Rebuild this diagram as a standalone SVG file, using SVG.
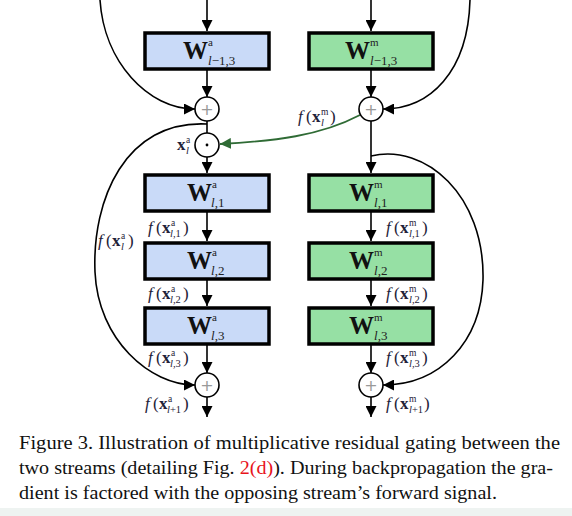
<svg xmlns="http://www.w3.org/2000/svg" width="572" height="516" viewBox="0 0 572 516">
<style>
.box{stroke:#000;stroke-width:3.5}
.ba{fill:#c9daf8}
.bm{fill:#96e0a4}
.c{fill:none;stroke:#000;stroke-width:1.6}
.g{fill:none;stroke:#2f6b35;stroke-width:1.8}
.circ{fill:#fff;stroke:#000;stroke-width:1.6}
.W{font-family:"Liberation Serif",serif;font-size:25px;font-weight:bold;fill:#111}
.s{font-family:"Liberation Serif",serif;font-size:13px;fill:#222}
.p{font-family:"Liberation Serif",serif;font-size:11px;fill:#222}
.lab{font-family:"Liberation Serif",serif;font-size:17px;fill:#1f2238}
.ls{font-family:"Liberation Serif",serif;font-size:10.5px;fill:#1f2238}
.lp{font-family:"Liberation Serif",serif;font-size:9.5px;fill:#1f2238}
.it{font-style:italic}
.x{font-weight:bold}
.cap{font-family:"Liberation Serif",serif;font-size:18px;fill:#111}
.op{font-family:"DejaVu Sans",sans-serif;font-size:16px;fill:#999;text-anchor:middle}
</style>
<defs>
<marker id="ah" markerUnits="userSpaceOnUse" markerWidth="11" markerHeight="11" refX="11" refY="5.5" orient="auto"><path d="M0,0 L11,5.5 L0,11 z" fill="#000"/></marker>
<marker id="ahg" markerUnits="userSpaceOnUse" markerWidth="11" markerHeight="11" refX="11" refY="5.5" orient="auto"><path d="M0,0 L11,5.5 L0,11 z" fill="#2f6b35"/></marker>
</defs>
<rect width="572" height="516" fill="#fff"/>
<rect x="0" y="508" width="572" height="8" fill="#eef3f1"/>

<g id="connectors">
<path class="c" d="M207,0 V31" marker-end="url(#ah)"/>
<path class="c" d="M207,70 V97" marker-end="url(#ah)"/>
<path class="c" d="M371,0 V31" marker-end="url(#ah)"/>
<path class="c" d="M371,70 V97" marker-end="url(#ah)"/>
<path class="c" d="M100,0 C104,62 148,109 195,109" marker-end="url(#ah)"/>
<path class="c" d="M470,0 C468,72 430,109 383,109" marker-end="url(#ah)"/>
<path class="c" d="M207,121 V133"/>
<path class="c" d="M207,157 V173" marker-end="url(#ah)"/>
<path class="c" d="M371,121 V173" marker-end="url(#ah)"/>
<path class="g" d="M360,115 C320,136 275,141 220,144" marker-end="url(#ahg)"/>
<path class="c" d="M207,212 V241" marker-end="url(#ah)"/>
<path class="c" d="M207,280 V306" marker-end="url(#ah)"/>
<path class="c" d="M207,345 V373" marker-end="url(#ah)"/>
<path class="c" d="M207,397 V417" marker-end="url(#ah)"/>
<path class="c" d="M371,212 V241" marker-end="url(#ah)"/>
<path class="c" d="M371,280 V306" marker-end="url(#ah)"/>
<path class="c" d="M371,345 V373" marker-end="url(#ah)"/>
<path class="c" d="M371,397 V417" marker-end="url(#ah)"/>
<path class="c" d="M207,124 C125,120 92,200 95,272 C98,340 150,385 195,385" marker-end="url(#ah)"/>
<path class="c" d="M371,156 C425,143 485,195 483,280 C481,342 440,385 383,385" marker-end="url(#ah)"/>
</g>

<g id="Wa0"><rect class="box ba" x="145" y="33" width="124" height="36"/>
<text class="W" x="183" y="59">W</text><text class="p" x="208" y="46">a</text><text class="s" x="208" y="65"><tspan class="it">l</tspan>−1,3</text></g>
<g id="Wm0"><rect class="box bm" x="309" y="33" width="124" height="36"/>
<text class="W" x="345" y="59">W</text><text class="p" x="370" y="46">m</text><text class="s" x="370" y="65"><tspan class="it">l</tspan>−1,3</text></g>

<g id="Wa1"><rect class="box ba" x="145" y="175" width="124" height="36"/>
<text class="W" x="187" y="201">W</text><text class="p" x="212" y="188">a</text><text class="s" x="211" y="207"><tspan class="it">l</tspan>,1</text></g>
<g id="Wa2"><rect class="box ba" x="145" y="243" width="124" height="36"/>
<text class="W" x="187" y="269">W</text><text class="p" x="212" y="256">a</text><text class="s" x="211" y="275"><tspan class="it">l</tspan>,2</text></g>
<g id="Wa3"><rect class="box ba" x="145" y="308" width="124" height="36"/>
<text class="W" x="187" y="334">W</text><text class="p" x="212" y="321">a</text><text class="s" x="211" y="340"><tspan class="it">l</tspan>,3</text></g>

<g id="Wm1"><rect class="box bm" x="309" y="175" width="124" height="36"/>
<text class="W" x="349" y="201">W</text><text class="p" x="374" y="188">m</text><text class="s" x="374" y="207"><tspan class="it">l</tspan>,1</text></g>
<g id="Wm2"><rect class="box bm" x="309" y="243" width="124" height="36"/>
<text class="W" x="349" y="269">W</text><text class="p" x="374" y="256">m</text><text class="s" x="374" y="275"><tspan class="it">l</tspan>,2</text></g>
<g id="Wm3"><rect class="box bm" x="309" y="308" width="124" height="36"/>
<text class="W" x="349" y="334">W</text><text class="p" x="374" y="321">m</text><text class="s" x="374" y="340"><tspan class="it">l</tspan>,3</text></g>

<g id="addA0"><circle class="circ" cx="207" cy="109" r="12"/><text class="op" x="207" y="115">+</text></g>
<g id="addM0"><circle class="circ" cx="371" cy="109" r="12"/><text class="op" x="371" y="115">+</text></g>
<g id="mulA"><circle class="circ" cx="207" cy="145" r="12"/><circle cx="207" cy="145" r="1.4" fill="#000"/></g>
<g id="addA1"><circle class="circ" cx="207" cy="385" r="12"/><text class="op" x="207" y="391">+</text></g>
<g id="addM1"><circle class="circ" cx="371" cy="385" r="12"/><text class="op" x="371" y="391">+</text></g>

<g id="labels">
<text class="lab x" x="177" y="150">x</text><text class="lp" x="186" y="143">a</text><text class="ls it" x="186" y="154">l</text>
<text class="lab" x="298" y="122"><tspan class="it">f</tspan><tspan x="306">(</tspan><tspan class="x" x="312">x</tspan></text><text class="lp" x="321" y="115">m</text><text class="ls it" x="321" y="126">l</text><text class="lab" x="330" y="122">)</text>
<text class="lab" x="98" y="246"><tspan class="it">f</tspan><tspan x="106">(</tspan><tspan class="x" x="112">x</tspan></text><text class="lp" x="121" y="239">a</text><text class="ls it" x="121" y="250">l</text><text class="lab" x="128" y="246">)</text>

<text class="lab" x="148" y="233"><tspan class="it">f</tspan><tspan x="156">(</tspan><tspan class="x" x="162">x</tspan></text><text class="lp" x="171" y="226">a</text><text class="ls" x="170" y="237"><tspan class="it">l</tspan>,1</text><text class="lab" x="183" y="233">)</text>
<text class="lab" x="148" y="299"><tspan class="it">f</tspan><tspan x="156">(</tspan><tspan class="x" x="162">x</tspan></text><text class="lp" x="171" y="292">a</text><text class="ls" x="170" y="303"><tspan class="it">l</tspan>,2</text><text class="lab" x="183" y="299">)</text>
<text class="lab" x="148" y="363"><tspan class="it">f</tspan><tspan x="156">(</tspan><tspan class="x" x="162">x</tspan></text><text class="lp" x="171" y="356">a</text><text class="ls" x="170" y="367"><tspan class="it">l</tspan>,3</text><text class="lab" x="183" y="363">)</text>
<text class="lab" x="145" y="409"><tspan class="it">f</tspan><tspan x="153">(</tspan><tspan class="x" x="159">x</tspan></text><text class="lp" x="168" y="402">a</text><text class="ls" x="167" y="413"><tspan class="it">l</tspan>+1</text><text class="lab" x="183" y="409">)</text>

<text class="lab" x="386" y="233"><tspan class="it">f</tspan><tspan x="394">(</tspan><tspan class="x" x="400">x</tspan></text><text class="lp" x="409" y="226">m</text><text class="ls" x="409" y="237"><tspan class="it">l</tspan>,1</text><text class="lab" x="422" y="233">)</text>
<text class="lab" x="386" y="299"><tspan class="it">f</tspan><tspan x="394">(</tspan><tspan class="x" x="400">x</tspan></text><text class="lp" x="409" y="292">m</text><text class="ls" x="409" y="303"><tspan class="it">l</tspan>,2</text><text class="lab" x="422" y="299">)</text>
<text class="lab" x="386" y="363"><tspan class="it">f</tspan><tspan x="394">(</tspan><tspan class="x" x="400">x</tspan></text><text class="lp" x="409" y="356">m</text><text class="ls" x="409" y="367"><tspan class="it">l</tspan>,3</text><text class="lab" x="422" y="363">)</text>
<text class="lab" x="386" y="409"><tspan class="it">f</tspan><tspan x="394">(</tspan><tspan class="x" x="400">x</tspan></text><text class="lp" x="409" y="402">m</text><text class="ls" x="409" y="413"><tspan class="it">l</tspan>+1</text><text class="lab" x="424" y="409">)</text>
</g>

<g id="caption">
<text class="cap" x="19" y="449" textLength="541" lengthAdjust="spacingAndGlyphs">Figure 3. Illustration of multiplicative residual gating between the</text>
<text class="cap" x="19" y="474" textLength="534" lengthAdjust="spacingAndGlyphs">two streams (detailing Fig. <tspan fill="#e8141b">2(d)</tspan>). During backpropagation the gra-</text>
<text class="cap" x="19" y="499" textLength="478" lengthAdjust="spacingAndGlyphs">dient is factored with the opposing stream’s forward signal.</text>
</g>
</svg>
